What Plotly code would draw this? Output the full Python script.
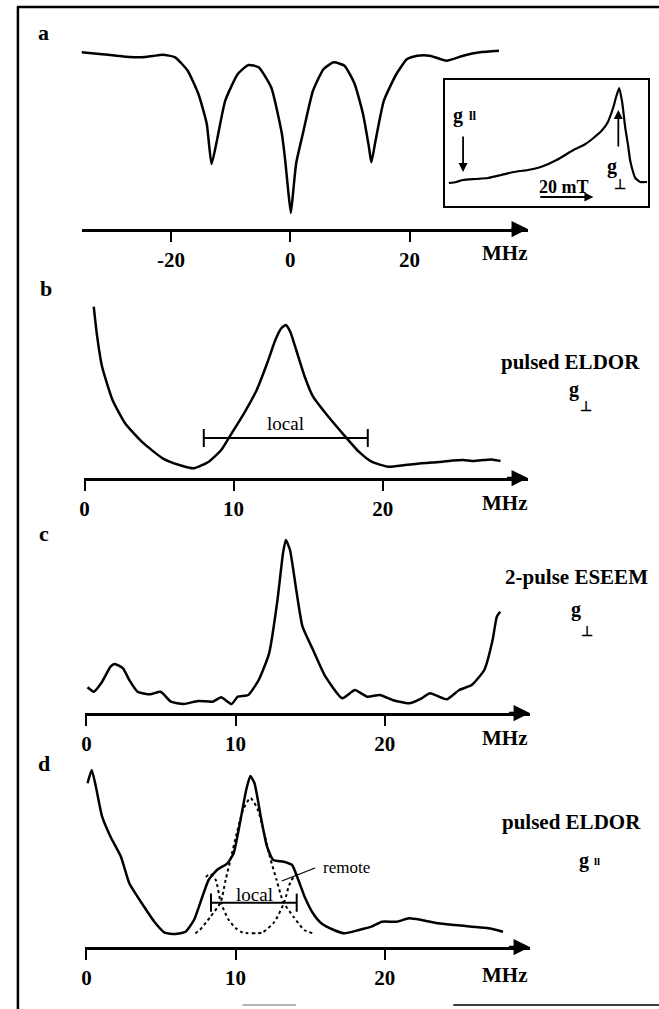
import plotly.graph_objects as go

W, H = 659, 1009
FONT = "Liberation Serif"

# ---------------- data ----------------
# panel a : spectrum, x in MHz, signal in arbitrary units
a_mhz = [-35.0, -32.0, -29.1, -27.0, -24.9, -23.0, -21.4, -19.3, -17.2, -15.4, -14.0, -13.2,
         -12.3, -10.9, -8.8, -7.0, -5.3, -3.2, -1.4, -0.8, -0.4, 0.1, 0.5, 1.0, 2.1, 3.8, 5.6,
         7.3, 9.1, 10.8, 12.2, 13.2, 13.6, 14.3, 15.7, 17.8, 19.6, 21.3, 23.4, 26.2, 29.0,
         31.8, 35.0]
a_sig = [176.7, 175.0, 173.3, 172.0, 171.7, 173.0, 174.3, 171.7, 158.3, 135.0, 105.0, 65.0,
         88.3, 128.3, 155.0, 164.0, 161.7, 141.7, 95.0, 66.0, 41.7, 16.0, 38.0, 66.0, 95.0,
         138.0, 160.0, 166.7, 163.3, 145.0, 115.0, 81.7, 66.7, 88.3, 128.3, 155.0, 170.0,
         173.3, 173.3, 168.3, 173.3, 176.7, 178.3]

# inset : EPR spectrum, field in mT
inset_mt = [1.3, 4.0, 6.5, 11.3, 15.6, 20.4, 24.9, 30.2, 34.9, 40.7, 46.9, 51.3, 54.2, 57.1,
            59.3, 61.5, 62.5, 63.6, 64.7, 65.8, 66.9, 67.6, 68.7, 69.5, 71.3, 73.8]
inset_sig = [23, 24, 26, 27, 28, 31, 34, 36, 39, 46, 56, 62, 68, 75, 83, 99, 109, 118, 104, 79,
             60, 46, 34, 28, 24, 24]
inset_g_par_mt = 6.5
inset_g_perp_mt = 63.3
inset_scale_mt = [34.2, 54.2]

# panel b : pulsed ELDOR g_perp
b_mhz = [0.62, 0.82, 1.18, 1.88, 2.72, 3.84, 5.24, 6.36, 7.34, 8.33, 9.17, 9.87, 10.7, 11.55,
         12.25, 12.8, 13.2, 13.5, 13.8, 14.2, 14.77, 15.33, 16.17, 17.3, 18.4, 19.25, 20.37,
         21.5, 22.6, 23.3, 24.0, 24.7, 25.4, 26.1, 26.8, 27.3, 27.9]
b_sig = [171.3, 144.7, 111.3, 78.0, 54.7, 36.3, 19.7, 13.0, 9.7, 16.3, 28.0, 44.7, 64.7, 88.0,
         114.7, 138.0, 149.7, 153.0, 146.3, 128.0, 101.3, 81.3, 64.7, 44.7, 26.3, 16.3, 11.3,
         13.0, 14.7, 15.5, 16.3, 17.5, 18.0, 17.0, 18.0, 18.5, 17.0]
b_local = [8.0, 19.0]
b_local_level = 40

# panel c : 2-pulse ESEEM g_perp
c_mhz = [0.07, 0.49, 1.05, 1.61, 1.89, 2.45, 2.87, 3.43, 4.27, 4.97, 5.67, 6.51, 7.49, 8.47,
         9.03, 9.73, 10.15, 10.85, 11.55, 12.25, 12.81, 13.18, 13.37, 13.65, 14.07, 14.49,
         15.2, 16.03, 17.15, 18.0, 18.83, 19.68, 20.52, 21.64, 22.48, 23.04, 24.16, 25.0,
         25.84, 26.68, 27.24, 27.52, 27.75]
c_sig = [25.7, 21.3, 31.3, 46.3, 49.0, 44.7, 33.0, 21.3, 18.7, 21.3, 11.3, 9.0, 12.0, 11.3,
         15.7, 9.0, 16.3, 18.0, 33.0, 59.7, 113.0, 159.7, 173.0, 163.0, 123.0, 86.3, 63.0,
         36.3, 14.7, 23.0, 16.3, 18.0, 13.0, 9.7, 14.7, 19.7, 13.7, 23.0, 28.0, 43.0, 73.0,
         96.3, 101.3]

# panel d : pulsed ELDOR g_par
d_mhz = [0.07, 0.35, 0.63, 1.05, 1.61, 2.31, 2.87, 3.71, 4.55, 5.25, 5.95, 6.65, 7.21, 7.77,
         8.19, 8.75, 9.45, 9.87, 10.29, 10.71, 10.99, 11.27, 11.69, 12.11, 12.53, 13.23, 13.79,
         14.21, 14.63, 15.19, 15.75, 16.59, 17.29, 18.27, 19.11, 19.82, 20.8, 21.64, 22.48,
         23.6, 24.72, 25.84, 26.96, 27.94]
d_sig = [163.7, 177.0, 160.3, 130.3, 110.3, 90.3, 63.7, 43.7, 25.3, 14.3, 13.0, 15.3, 27.0,
         50.3, 67.0, 77.0, 83.7, 93.7, 123.7, 157.0, 171.0, 163.7, 130.3, 100.3, 87.0, 85.3,
         82.0, 67.0, 50.3, 33.7, 23.7, 17.0, 13.7, 17.0, 20.3, 25.3, 25.3, 28.7, 27.0, 23.7,
         22.0, 20.3, 18.7, 15.3]
# dotted decomposition components in panel d
d_comp_local_mhz = [7.3, 7.6, 8.3, 9.0, 9.33, 9.7, 10.1, 10.5, 11.0, 11.5, 11.9, 12.3, 12.75,
                    13.2, 13.9, 14.6, 15.2]
d_comp_local_sig = [13.7, 17, 30, 45, 67, 90, 115, 137, 149, 137, 115, 90, 67, 45, 30, 17, 13.7]
d_comp_rem1_mhz = [8.0, 8.3, 8.67, 9.0, 9.5, 10.0, 10.47, 11.1]
d_comp_rem1_sig = [70, 73, 67, 45, 28, 19, 14.5, 13.7]
d_comp_rem2_mhz = [11.1, 11.8, 12.6, 13.27, 13.6, 14.0, 14.3]
d_comp_rem2_sig = [13.7, 14.5, 25, 45, 62, 72, 70]
d_local = [8.35, 14.1]
d_local_level = 44.3
d_remote_pointer_mhz = [15.33, 13.1]
d_remote_pointer_sig = [79, 66]

tick_a = [-20, 0, 20]
tick_bcd = [0, 10, 20]

# ---------------- helpers ----------------
def X(px):
    return px / W

def Y(py):
    return 1 - py / H

fig = go.Figure()
LINE = dict(color="black", width=2.5, shape="spline", smoothing=0.5)

fig.add_trace(go.Scatter(x=a_mhz, y=a_sig, mode="lines", line=LINE, xaxis="x", yaxis="y"))
fig.add_trace(go.Scatter(x=inset_mt, y=inset_sig, mode="lines", line=dict(LINE, width=2.2),
                         xaxis="x5", yaxis="y5"))
fig.add_trace(go.Scatter(x=b_mhz, y=b_sig, mode="lines", line=LINE, xaxis="x2", yaxis="y2"))
fig.add_trace(go.Scatter(x=b_local, y=[b_local_level] * 2, mode="lines+markers",
                         line=dict(color="black", width=2),
                         marker=dict(symbol="line-ns-open", size=13, line=dict(width=2, color="black")),
                         xaxis="x2", yaxis="y2"))
fig.add_trace(go.Scatter(x=c_mhz, y=c_sig, mode="lines", line=LINE, xaxis="x3", yaxis="y3"))
fig.add_trace(go.Scatter(x=d_mhz, y=d_sig, mode="lines", line=LINE, xaxis="x4", yaxis="y4"))
for xs, ys in [(d_comp_local_mhz, d_comp_local_sig), (d_comp_rem1_mhz, d_comp_rem1_sig),
               (d_comp_rem2_mhz, d_comp_rem2_sig)]:
    fig.add_trace(go.Scatter(x=xs, y=ys, mode="lines",
                             line=dict(color="black", width=2, dash="dot", shape="spline", smoothing=0.6),
                             xaxis="x4", yaxis="y4"))
fig.add_trace(go.Scatter(x=d_local, y=[d_local_level] * 2, mode="lines+markers",
                         line=dict(color="black", width=2),
                         marker=dict(symbol="line-ns-open", size=13, line=dict(width=2, color="black")),
                         xaxis="x4", yaxis="y4"))
fig.add_trace(go.Scatter(x=d_remote_pointer_mhz, y=d_remote_pointer_sig, mode="lines",
                         line=dict(color="black", width=1.3), xaxis="x4", yaxis="y4"))

def xaxis(dom_px, rng, ticks):
    return dict(domain=[X(dom_px[0]), X(dom_px[1])], range=rng, showline=True, linecolor="black",
                linewidth=2.5, ticks="outside", ticklen=10, tickwidth=2, tickcolor="black",
                tickvals=ticks, ticktext=[str(t) for t in ticks], showgrid=False, zeroline=False,
                tickfont=dict(family=FONT, size=21, color="black", weight="bold"), fixedrange=True)

def yaxis(bottom_px, top_px):
    return dict(domain=[Y(bottom_px), Y(top_px)], range=[0, 200], visible=False, fixedrange=True)

layout = dict(
    width=W, height=H, margin=dict(l=0, r=0, t=0, b=0), showlegend=False,
    paper_bgcolor="white", plot_bgcolor="rgba(0,0,0,0)",
    xaxis=dict(xaxis((78, 527), [-35, (527 - 288) / 6], tick_a), anchor="y"),
    yaxis=dict(yaxis(229, 29), anchor="x"),
    xaxis2=dict(xaxis((80, 527), [(80 - 81) / 15, (527 - 81) / 15], tick_bcd), anchor="y2"),
    yaxis2=dict(yaxis(478, 278), anchor="x2"),
    xaxis3=dict(xaxis((81, 529), [(81 - 83) / 15, (529 - 83) / 15], tick_bcd), anchor="y3"),
    yaxis3=dict(yaxis(713, 513), anchor="x3"),
    xaxis4=dict(xaxis((81, 529), [(81 - 83) / 15, (529 - 83) / 15], tick_bcd), anchor="y4"),
    yaxis4=dict(yaxis(947, 747), anchor="x4"),
    xaxis5=dict(domain=[X(444), X(648)], range=[0, 204 / 2.75], showline=True, mirror=True,
                linecolor="black", linewidth=2, showticklabels=False, ticks="", showgrid=False,
                zeroline=False, anchor="y5", fixedrange=True),
    yaxis5=dict(domain=[Y(206), Y(80)], range=[0, 126], showline=True, mirror=True,
                linecolor="black", linewidth=2, showticklabels=False, ticks="", showgrid=False,
                zeroline=False, anchor="x5", fixedrange=True),
)
fig.update_layout(**layout)

ann = []

def text(px, py, s, size=21, bold=False, xanchor="center"):
    ann.append(dict(x=X(px), y=Y(py), xref="paper", yref="paper", text=s,
                    showarrow=False, xanchor=xanchor, yanchor="middle",
                    font=dict(family=FONT, size=size, color="black",
                              weight="bold" if bold else "normal")))

# axis arrowheads
for ax_id, xr in [("x", (527 - 288) / 6), ("x2", (527 - 81) / 15), ("x3", (529 - 83) / 15),
                  ("x4", (529 - 83) / 15)]:
    yid = "y" + ax_id[1:]
    step = 3 if ax_id == "x" else 1.5
    ann.append(dict(x=xr, y=0, xref=ax_id, yref=yid, ax=xr - step, ay=0, axref=ax_id, ayref=yid,
                    showarrow=True, arrowhead=2, arrowsize=1.3, arrowwidth=2.5, arrowcolor="black",
                    text="", standoff=0))

# inset arrows
ann.append(dict(x=inset_g_par_mt, y=34, xref="x5", yref="y5", ax=inset_g_par_mt, ay=71, axref="x5",
                ayref="y5", showarrow=True, arrowhead=2, arrowsize=1, arrowwidth=1.8,
                arrowcolor="black", text=""))
ann.append(dict(x=inset_g_perp_mt, y=96, xref="x5", yref="y5", ax=inset_g_perp_mt, ay=58, axref="x5",
                ayref="y5", showarrow=True, arrowhead=2, arrowsize=1, arrowwidth=1.8,
                arrowcolor="black", text=""))
ann.append(dict(x=inset_scale_mt[1], y=9, xref="x5", yref="y5", ax=inset_scale_mt[0], ay=9,
                axref="x5", ayref="y5", showarrow=True, arrowhead=2, arrowsize=1, arrowwidth=1.8,
                arrowcolor="black", text=""))

# panel letters
text(40, 32, "a", 22, True)
text(42, 288, "b", 22, True)
text(40, 533, "c", 22, True)
text(40, 763, "d", 22, True)

# units
for py in (253, 503, 738, 975):
    text(504, py, "MHz", 21, True)

# inset labels
text(457, 115, "g", 20, True)
text(472, 116, "ll", 13, True)
text(563, 187, "20 mT", 18, True)
text(612, 166, "g", 20, True)
text(620, 185, "⊥", 14, True)

# panel b labels
text(570, 362, "pulsed ELDOR", 21, True)
text(573, 389, "g", 20, True)
text(586, 406, "⊥", 14, True)
text(283.5, 423, "local", 19)

# panel c labels
text(576, 577, "2-pulse ESEEM", 21, True)
text(575, 609, "g", 20, True)
text(587, 631, "⊥", 14, True)

# panel d labels
text(571, 822, "pulsed ELDOR", 21, True)
text(584, 860, "g", 20, True)
text(597, 861, "ll", 11, True)
text(252.5, 894, "local", 19)
text(345, 867, "remote", 17)

fig.update_layout(annotations=ann)

# frame lines of the scanned page
shapes = [
    dict(type="line", xref="paper", yref="paper", x0=X(14), x1=X(14), y0=Y(7), y1=Y(1009),
         line=dict(color="black", width=2.5)),
    dict(type="line", xref="paper", yref="paper", x0=X(13), x1=X(659), y0=Y(7), y1=Y(7),
         line=dict(color="black", width=2.5)),
    dict(type="line", xref="paper", yref="paper", x0=X(452), x1=X(659), y0=Y(1005), y1=Y(1005),
         line=dict(color="black", width=1.5)),
    dict(type="line", xref="paper", yref="paper", x0=X(240), x1=X(294), y0=Y(1005), y1=Y(1005),
         line=dict(color="#999999", width=1.5)),
]
fig.update_layout(shapes=shapes)

fig.write_html("out.html")
